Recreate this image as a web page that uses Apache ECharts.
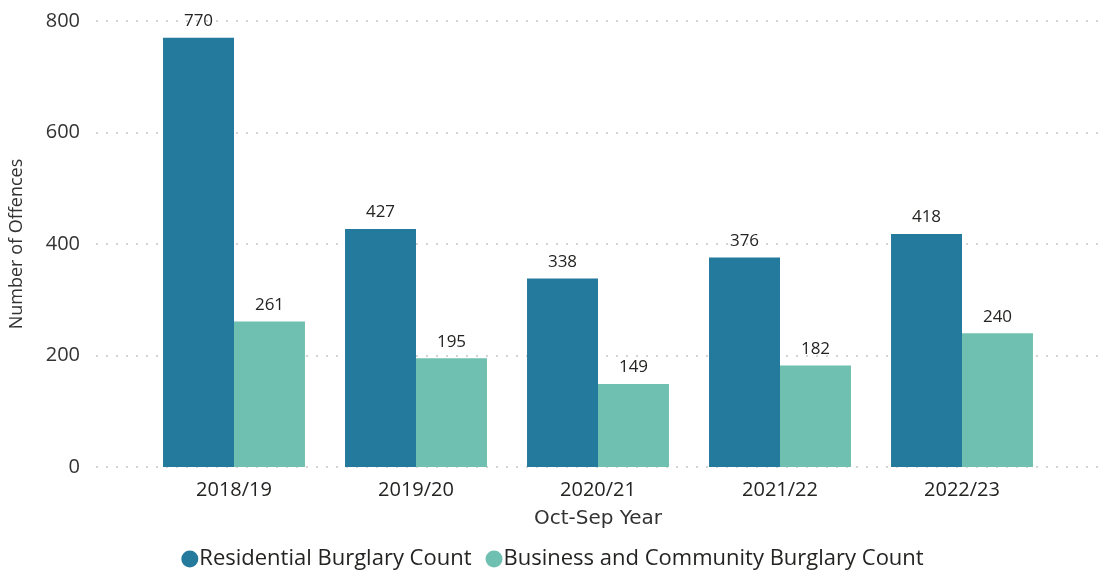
<!DOCTYPE html>
<html>
<head>
<meta charset="utf-8">
<script src="https://cdn.jsdelivr.net/npm/echarts@6/dist/echarts.min.js"></script>
<style>
  html, body { margin: 0; padding: 0; background: #fff; }
  #chart { width: 1105px; height: 572px; }
</style>
</head>
<body>
<div id="chart"></div>
<script>
const years = ['2018/19', '2019/20', '2020/21', '2021/22', '2022/23']
const residential = [770, 427, 338, 376, 418]
const business = [261, 195, 149, 182, 240]
const yTicks = [0, 200, 400, 600, 800]

const font = '"Open Sans", "Noto Sans", sans-serif'
const chart = echarts.init(document.getElementById('chart'))

const option = {
  animation: false,
  textStyle: { fontFamily: font },
  legend: {
    left: 'center',
    top: 543,
    icon: 'circle',
    itemWidth: 17,
    itemHeight: 17,
    itemGap: 14,
    textStyle: { fontSize: 22, color: '#252423', fontFamily: font, padding: [0, 0, 0, -4] },
    data: ['Residential Burglary Count', 'Business and Community Burglary Count']
  },
  grid: [
    { left: 143, right: 52, top: 21, bottom: 105 },
    { left: 90, right: 5, top: 21, bottom: 105 }
  ],
  xAxis: [
    {
      type: 'category',
      gridIndex: 0,
      data: years,
      name: 'Oct-Sep Year',
      nameLocation: 'middle',
      nameGap: 42,
      nameTextStyle: { fontSize: 20, color: '#333', fontFamily: '"DejaVu Sans", sans-serif' },
      axisLine: { show: false },
      axisTick: { show: false },
      axisLabel: { fontSize: 20, color: '#252423', margin: 13 }
    },
    { type: 'value', gridIndex: 1, show: false }
  ],
  yAxis: [
    { type: 'value', gridIndex: 0, min: 0, max: 800, interval: 200, show: false },
    {
      type: 'value',
      gridIndex: 1,
      min: yTicks[0],
      max: yTicks[yTicks.length - 1],
      interval: 200,
      name: 'Number of Offences',
      nameLocation: 'middle',
      nameGap: 70,
      nameTextStyle: { fontSize: 18, color: '#333', fontFamily: font },
      axisLine: { show: false },
      axisTick: { show: false },
      axisLabel: { fontSize: 20, color: '#333', margin: 16 },
      splitLine: { lineStyle: { color: '#c8c8c8', width: 1.5, type: [2, 8] } }
    }
  ],
  series: [
    {
      name: 'Residential Burglary Count',
      type: 'bar',
      xAxisIndex: 0,
      yAxisIndex: 0,
      data: residential,
      barGap: '0%',
      barCategoryGap: '22%',
      itemStyle: { color: '#237a9c' },
      label: { show: true, position: 'top', distance: 8, fontSize: 17, color: '#252423' }
    },
    {
      name: 'Business and Community Burglary Count',
      type: 'bar',
      xAxisIndex: 0,
      yAxisIndex: 0,
      data: business,
      barGap: '0%',
      barCategoryGap: '22%',
      itemStyle: { color: '#6fc0b0' },
      label: { show: true, position: 'top', distance: 8, fontSize: 17, color: '#252423' }
    }
  ]
}

chart.setOption(option)
window.addEventListener('resize', () => chart.resize())
</script>
</body>
</html>
